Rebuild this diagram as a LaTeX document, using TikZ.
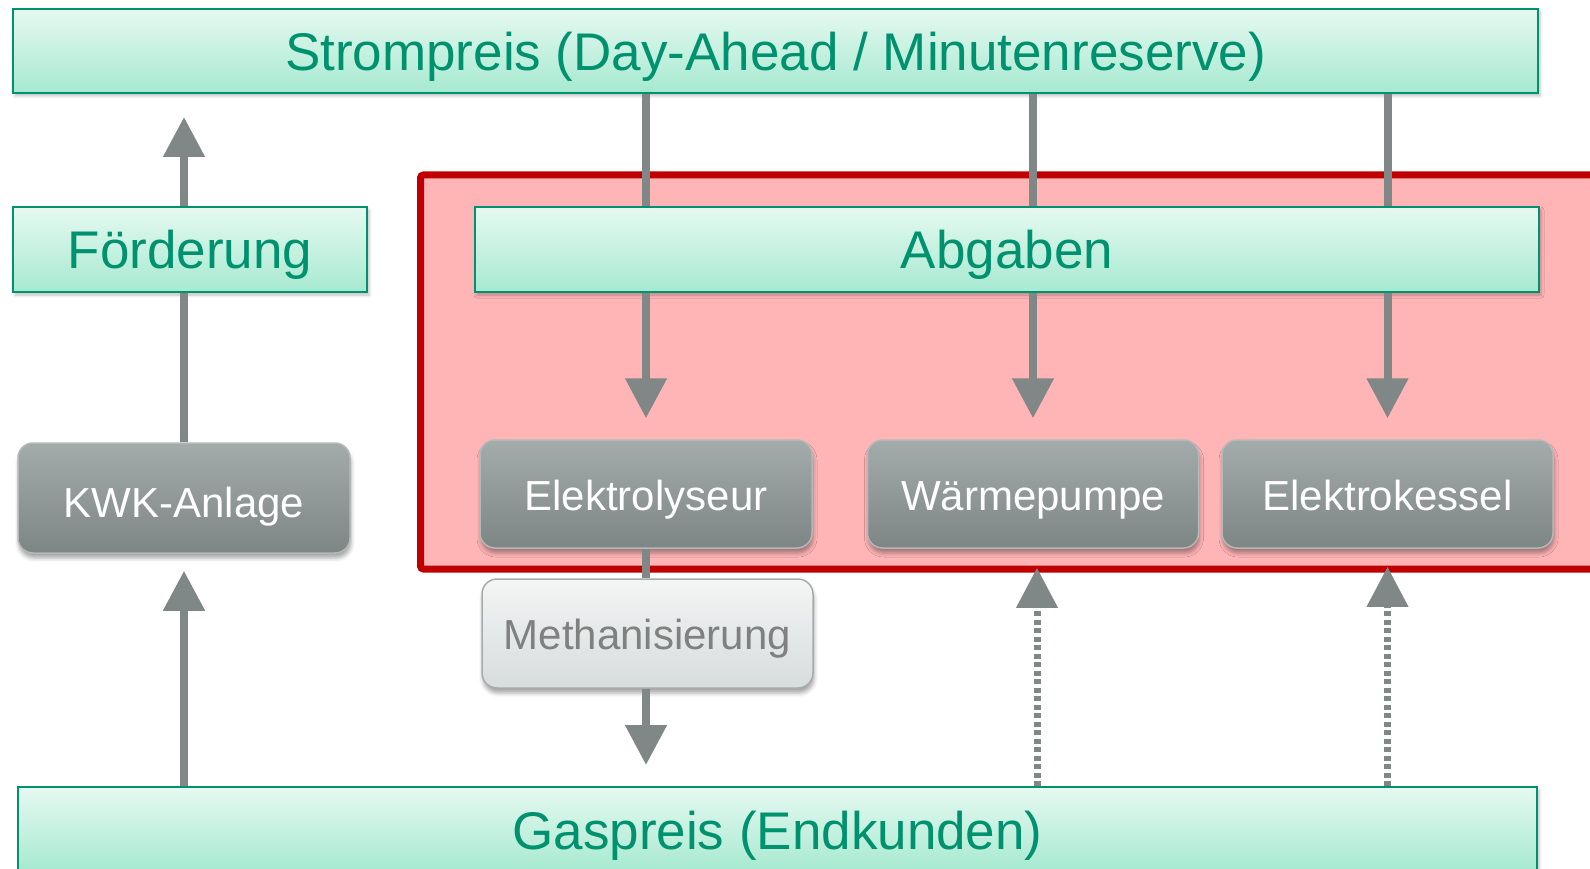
\documentclass[tikz,border=0pt]{standalone}
\usepackage{fontspec}
\setmainfont{Liberation Sans}
\usetikzlibrary{arrows.meta,shadows.blur}

\definecolor{gline}{HTML}{00916E}
\definecolor{gtext}{HTML}{00916E}
\definecolor{gtop}{HTML}{E6F9F1}
\definecolor{gbot}{HTML}{A6E9D0}
\definecolor{ytop}{HTML}{A4ABAB}
\definecolor{ybot}{HTML}{7D8585}
\definecolor{yline}{HTML}{B3B9B9}
\definecolor{mtop}{HTML}{F4F5F5}
\definecolor{mbot}{HTML}{D7DCDC}
\definecolor{mline}{HTML}{A5ACAC}
\definecolor{mtext}{HTML}{808080}
\definecolor{arrowgray}{HTML}{7F8787}
\definecolor{redline}{HTML}{C00000}
\definecolor{redfill}{HTML}{FFB4B6}

\begin{document}
\begin{tikzpicture}[x=1pt,y=-1pt,
  greenbox/.style={rectangle, draw=gline, line width=2pt,
    top color=gtop, bottom color=gbot, text=gtext,
    font=\fontsize{53}{60}\selectfont, text height=39pt, text depth=0pt,
    inner sep=0pt,
    blur shadow={shadow xshift=2pt, shadow yshift=-3pt,
      shadow blur radius=3pt, shadow opacity=25}},
  graybox/.style={rectangle, rounded corners=15pt, draw=yline, line width=1.5pt,
    top color=ytop, bottom color=ybot, text=white,
    font=\fontsize{42}{48}\selectfont, text height=32pt, text depth=0pt,
    inner sep=0pt,
    blur shadow={shadow xshift=1pt, shadow yshift=-5pt,
      shadow blur radius=4pt, shadow opacity=35}},
  methbox/.style={graybox, draw=mline, top color=mtop, bottom color=mbot,
    text=mtext},
  link/.style={draw=arrowgray, line width=8pt},
  arr/.style={link, -{Triangle[length=40pt,width=40pt]}},
  dasharr/.style={arr, line width=7pt, dash pattern=on 5pt off 3.5pt}
]
\useasboundingbox (0,0) rectangle (1590,869);
\clip (0,0) rectangle (1590,869);

% area for the levies
\draw[draw=redline, fill=redfill, line width=7pt, rounded corners=3pt]
  (420.5,175) rectangle (1620,569);

% price and levy bars
\node[greenbox, minimum width=1525pt, minimum height=84pt] (strom) at (775.5,51)
  {Strompreis (Day-Ahead / Minutenreserve)};
\node[greenbox, minimum width=354pt, minimum height=85pt] (foerd) at (190,249.5)
  {Förderung};
\node[greenbox, minimum width=1064pt, minimum height=85pt] (abg) at (1007,249.5)
  {Abgaben};
\node[greenbox, minimum width=1519pt, minimum height=85pt] (gas) at (777.5,829.5)
  {Gaspreis (Endkunden)};

% plants
\node[graybox, minimum width=332pt, minimum height=110pt, text height=38pt]
  (kwk) at (184,498) {KWK-Anlage};
\node[graybox, minimum width=332pt, minimum height=108pt] (elek) at (646,494)
  {Elektrolyseur};
\node[graybox, minimum width=331pt, minimum height=108pt] (wp) at (1033,494)
  {Wärmepumpe};
\node[graybox, minimum width=331pt, minimum height=108pt] (ek) at (1387.5,494)
  {Elektrokessel};
\node[methbox, minimum width=331pt, minimum height=109pt] (meth) at (647.5,633.5)
  {Methanisierung};

% CHP path
\coordinate (ftip) at (184,117);
\draw[arr] (foerd.north -| kwk.north) -- (ftip);
\draw[link] (kwk.north) -- (foerd.south -| kwk.north);
\draw[arr, shorten >=17pt] (gas.north -| kwk.south) -- (kwk.south);

% power price through levies to consumers
\foreach \t in {elek,wp,ek}{
  \draw[link] (strom.south -| \t.north) -- (abg.north -| \t.north);
  \draw[arr, shorten >=21pt] (abg.south -| \t.north) -- (\t.north);
}

% electrolysis and methanation
\draw[link] (elek.south) -- (meth.north -| elek.south);
\draw[arr, shorten >=21pt] (meth.south -| elek.south) -- (gas.north -| elek.south);

% gas price as alternative
\draw[dasharr, shorten >=19pt] ([xshift=4pt]gas.north -| wp.south) -- ([xshift=4pt]wp.south);
\draw[dasharr, shorten >=18pt] (gas.north -| ek.south) -- (ek.south);
\end{tikzpicture}
\end{document}
